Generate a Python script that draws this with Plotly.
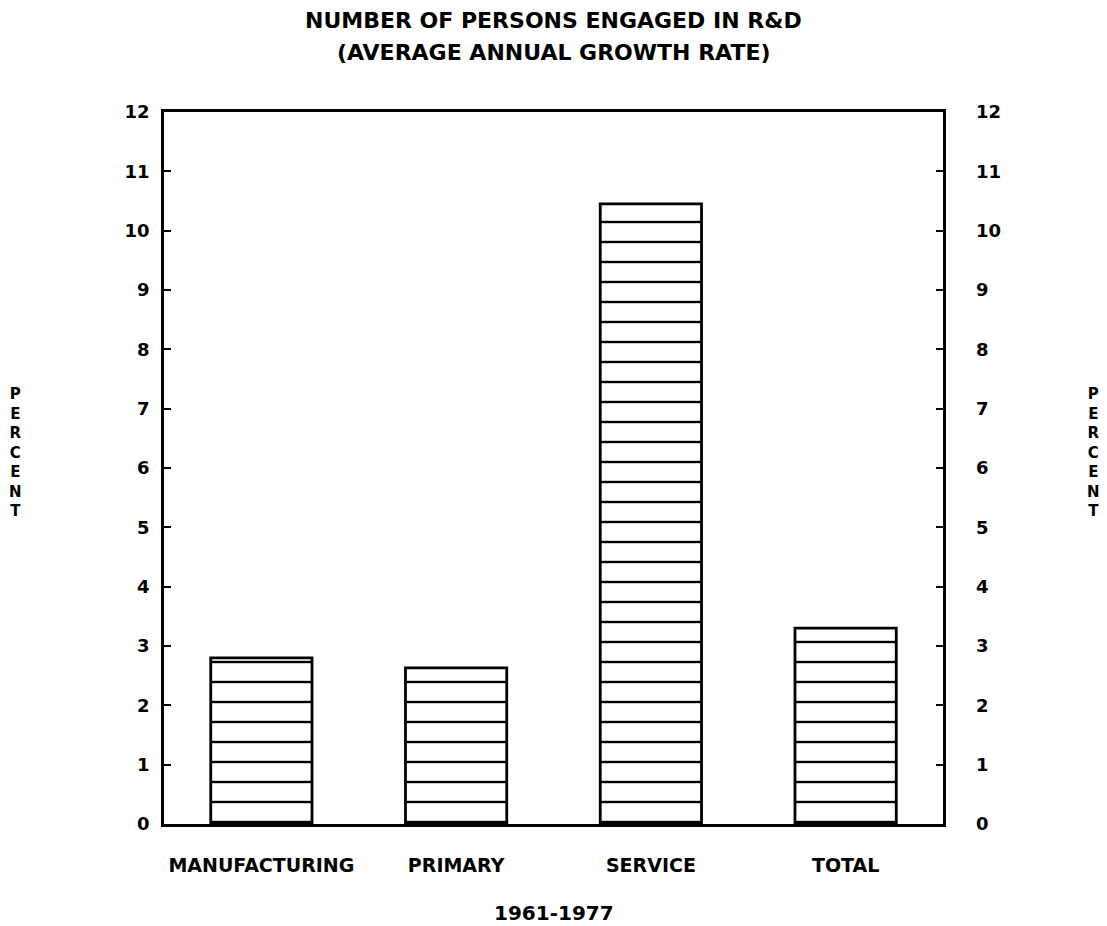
import plotly.graph_objects as go

# Average annual growth rate of R&D personnel, 1961-1977
categories = ["MANUFACTURING", "PRIMARY", "SERVICE", "TOTAL"]
growth_pct = [2.8, 2.63, 10.45, 3.3]
y_ticks = list(range(0, 13))

FONT = "DejaVu Sans"
INK = "#000000"

fig = go.Figure()

fig.add_trace(go.Bar(
    x=categories,
    y=growth_pct,
    width=0.52,
    marker=dict(
        color="white",
        line=dict(color=INK, width=2.8),
        pattern=dict(shape="-", size=20, solidity=0.12, fgcolor=INK,
                     fgopacity=1, bgcolor="white", fillmode="replace"),
    ),
    hoverinfo="x+y",
    showlegend=False,
))

# companion trace so the right-hand axis is drawn
fig.add_trace(go.Scatter(
    x=categories, y=growth_pct, yaxis="y2", mode="markers",
    marker=dict(opacity=0), hoverinfo="skip", showlegend=False,
))

axis_font = dict(family=FONT, size=18, color=INK, weight="bold")
cat_font = dict(family=FONT, size=19, color=INK, weight="bold")

fig.update_layout(
    width=1107, height=926,
    margin=dict(l=164, r=164, t=112, b=102),
    paper_bgcolor="white", plot_bgcolor="white",
    bargap=0.48,
    xaxis=dict(
        showline=True, linecolor=INK, linewidth=2.8, mirror=True,
        ticks="", showgrid=False, tickfont=cat_font,
        ticklabelstandoff=22,
    ),
    yaxis=dict(
        range=[0, 12], tickvals=y_ticks, showgrid=False, zeroline=False,
        showline=True, linecolor=INK, linewidth=2.8, mirror=True,
        ticks="inside", ticklen=7, tickwidth=2, tickcolor=INK,
        tickfont=axis_font, ticklabelstandoff=8,
    ),
    yaxis2=dict(
        range=[0, 12], tickvals=y_ticks, overlaying="y", side="right",
        showgrid=False, zeroline=False, showline=False,
        ticks="inside", ticklen=7, tickwidth=2, tickcolor=INK,
        tickfont=axis_font, ticklabelstandoff=32,
    ),
    annotations=[
        dict(text="NUMBER OF PERSONS ENGAGED IN R&D", xref="paper", yref="paper",
             x=0.5, y=1.129, xanchor="center", yanchor="middle", showarrow=False,
             font=dict(family=FONT, size=22, color=INK, weight="bold")),
        dict(text="(AVERAGE ANNUAL GROWTH RATE)", xref="paper", yref="paper",
             x=0.5, y=1.084, xanchor="center", yanchor="middle", showarrow=False,
             font=dict(family=FONT, size=22, color=INK, weight="bold")),
        dict(text="1961-1977", xref="paper", yref="paper",
             x=0.5, y=-0.125, xanchor="center", yanchor="middle", showarrow=False,
             font=dict(family=FONT, size=20, color=INK, weight="bold")),
        dict(text="<br>".join("PERCENT"), xref="paper", yref="paper",
             x=-0.190, y=0.522, xanchor="center", yanchor="middle", showarrow=False,
             font=dict(family=FONT, size=15, color=INK, weight="bold")),
        dict(text="<br>".join("PERCENT"), xref="paper", yref="paper",
             x=1.1926, y=0.522, xanchor="center", yanchor="middle", showarrow=False,
             font=dict(family=FONT, size=15, color=INK, weight="bold")),
    ],
)

fig.write_html("out.html")
